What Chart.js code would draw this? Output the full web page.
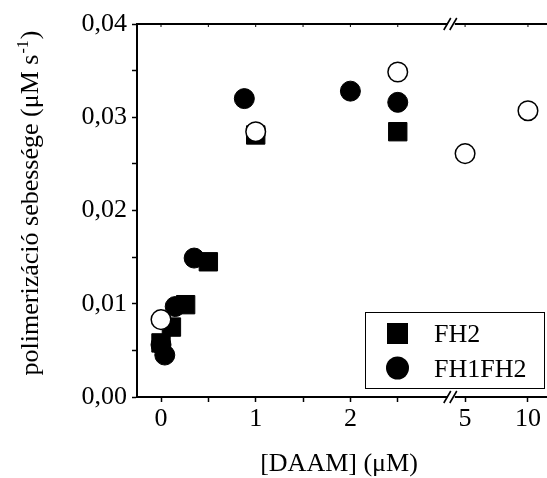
<!DOCTYPE html>
<html>
<head>
<meta charset="utf-8">
<script src="https://cdn.jsdelivr.net/npm/chart.js@4/dist/chart.umd.min.js"></script>
<style>
  html, body { margin: 0; padding: 0; background: #fff; overflow: hidden; }
  canvas { display: block; }
</style>
</head>
<body>
<canvas id="c" width="547" height="478"></canvas>
<script>
// values
const fh2X = [0, 0.11, 0.26, 0.5, 1, 2.5];
const fh2Y = [0.0058, 0.0075, 0.0099, 0.0145, 0.0281, 0.02845];
const fh1fh2X = [0, 0.04, 0.15, 0.35, 0.88, 2, 2.5];
const fh1fh2Y = [0.0056, 0.0045, 0.0097, 0.0149, 0.0320, 0.0328, 0.0316];
const openX = [0, 1, 2.5, 5, 10];
const openY = [0.0083, 0.02845, 0.03485, 0.0261, 0.0307];

const xTicks = [0, 0.5, 1, 1.5, 2, 2.5, 5, 10];
const xLabels = ['0', '', '1', '', '2', '', '5', '10'];
const yTicks = [0, 0.005, 0.01, 0.015, 0.02, 0.025, 0.03, 0.035, 0.04];
const yLabels = ['0,00', '', '0,01', '', '0,02', '', '0,03', '', '0,04'];

const FONT = '"Liberation Serif", "Times New Roman", serif';

// broken x axis: linear up to 3, compressed segment after the break
function brk(x) {
  if (x <= 3) return x;
  return 3.211 + (x - 5) * 0.1328;
}
const BREAK_AT = 3.06;

function pts(xs, ys) {
  return xs.map((x, i) => ({ x: brk(x), y: ys[i] }));
}

const extras = {
  id: 'extras',
  afterDraw(chart) {
    const ctx = chart.ctx;
    const a = chart.chartArea;
    const xs = chart.scales.x;
    ctx.save();
    ctx.strokeStyle = '#000';
    ctx.fillStyle = '#000';

    // top axis line, and bottom axis carried to the edge
    ctx.lineWidth = 2;
    ctx.beginPath();
    ctx.moveTo(a.left - 1, a.top);
    ctx.lineTo(chart.width, a.top);
    ctx.moveTo(a.right - 1, a.bottom);
    ctx.lineTo(chart.width, a.bottom);
    ctx.stroke();
    ctx.lineWidth = 1;
    for (const t of xTicks) {
      const px = xs.getPixelForValue(brk(t));
      ctx.beginPath();
      ctx.moveTo(px, a.top);
      ctx.lineTo(px, a.top + 3);
      ctx.stroke();
    }

    // break marks
    const bx = xs.getPixelForValue(BREAK_AT);
    for (const y of [a.top, a.bottom]) {
      ctx.fillStyle = '#fff';
      ctx.fillRect(bx - 3, y - 2, 7, 4);
      ctx.strokeStyle = '#000';
      ctx.lineWidth = 1.6;
      ctx.beginPath();
      ctx.moveTo(bx - 7, y + 6); ctx.lineTo(bx, y - 6);
      ctx.moveTo(bx - 1, y + 6); ctx.lineTo(bx + 6, y - 6);
      ctx.stroke();
    }

    // legend
    ctx.fillStyle = '#fff';
    ctx.fillRect(365, 312, 179, 76);
    ctx.strokeStyle = '#000';
    ctx.lineWidth = 1;
    ctx.strokeRect(365.5, 312.5, 179, 76);
    ctx.fillStyle = '#000';
    ctx.fillRect(387, 323, 21, 21);
    ctx.beginPath();
    ctx.arc(397.5, 368, 11.5, 0, Math.PI * 2);
    ctx.fill();
    ctx.font = '26px ' + FONT;
    ctx.textAlign = 'left';
    ctx.textBaseline = 'alphabetic';
    ctx.fillText('FH2', 434, 342);
    ctx.fillText('FH1FH2', 434, 377);

    // x title
    ctx.textAlign = 'center';
    ctx.fillText('[DAAM] (\u03BCM)', 339, 471);

    // y title with superscript
    ctx.translate(38, 203);
    ctx.rotate(-Math.PI / 2);
    const t1 = 'polimeriz\u00E1ci\u00F3 sebess\u00E9ge (\u03BCM s';
    const t2 = '-1';
    const t3 = ')';
    ctx.font = '26px ' + FONT;
    const w1 = ctx.measureText(t1).width;
    const w3 = ctx.measureText(t3).width;
    ctx.font = '16px ' + FONT;
    const w2 = ctx.measureText(t2).width;
    let x0 = -(w1 + w2 + w3 + 2) / 2;
    ctx.textAlign = 'left';
    ctx.font = '26px ' + FONT;
    ctx.fillText(t1, x0, 0);
    ctx.font = '16px ' + FONT;
    ctx.fillText(t2, x0 + w1 + 1, -10);
    ctx.font = '26px ' + FONT;
    ctx.fillText(t3, x0 + w1 + w2 + 2, 0);
    ctx.restore();
  }
};

const chart = new Chart(document.getElementById('c'), {
  type: 'scatter',
  data: {
    datasets: [
      {
        label: 'open',
        data: pts(openX, openY),
        clip: false,
        pointStyle: 'circle',
        pointRadius: 9.8,
        pointBackgroundColor: '#fff',
        pointBorderColor: '#000',
        pointBorderWidth: 1.5,
        order: 0
      },
      {
        label: 'FH1FH2',
        data: pts(fh1fh2X, fh1fh2Y),
        clip: false,
        pointStyle: 'circle',
        pointRadius: 10,
        pointBackgroundColor: '#000',
        pointBorderColor: '#000',
        pointBorderWidth: 1,
        order: 1
      },
      {
        label: 'FH2',
        data: pts(fh2X, fh2Y),
        clip: false,
        pointStyle: 'rect',
        pointRadius: 13,
        pointBackgroundColor: '#000',
        pointBorderColor: '#000',
        pointBorderWidth: 1,
        order: 2
      }
    ]
  },
  options: {
    responsive: false,
    devicePixelRatio: 1,
    animation: false,
    layout: { padding: { top: 24, right: 0, left: 0, bottom: 0 } },
    plugins: { legend: { display: false }, tooltip: { enabled: false } },
    scales: {
      x: {
        type: 'linear',
        min: -0.2534,
        max: 4.076,
        afterBuildTicks(scale) { scale.ticks = xTicks.map(v => ({ value: brk(v) })); },
        afterFit(scale) { scale.height = 81; },
        ticks: {
          autoSkip: false,
          maxRotation: 0,
          color: '#000',
          font: { family: FONT, size: 26 },
          padding: 2,
          callback: (v, i) => xLabels[i]
        },
        grid: { drawOnChartArea: false, drawTicks: true, tickLength: 5, tickColor: '#000', tickWidth: 1.5 },
        border: { display: true, color: '#000', width: 2 }
      },
      y: {
        type: 'linear',
        min: 0,
        max: 0.04,
        afterBuildTicks(scale) { scale.ticks = yTicks.map(v => ({ value: v })); },
        afterFit(scale) { scale.width = 137; },
        ticks: {
          autoSkip: false,
          color: '#000',
          font: { family: FONT, size: 26 },
          padding: 5,
          callback: (v, i) => yLabels[i]
        },
        grid: { drawOnChartArea: false, drawTicks: true, tickLength: 5, tickColor: '#000', tickWidth: 1.5 },
        border: { display: true, color: '#000', width: 2 }
      }
    }
  },
  plugins: [extras]
});

// pin 0 at x=161 px and 94.7 px per unit, whatever room the layout leaves
const X0 = 161, K = 94.7;
for (let i = 0; i < 3; i++) {
  const s = chart.scales.x;
  const min = -(X0 - s.left) / K;
  chart.options.scales.x.min = min;
  chart.options.scales.x.max = min + (s.right - s.left) / K;
  chart.update();
}
</script>
</body>
</html>
